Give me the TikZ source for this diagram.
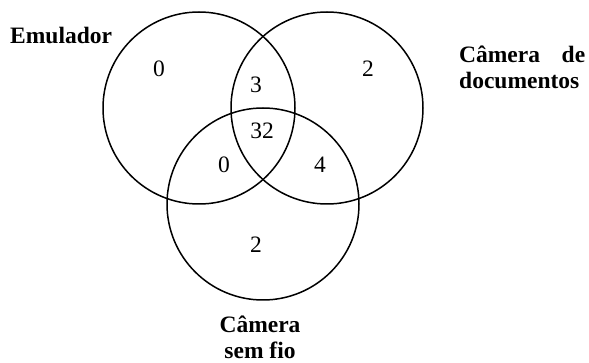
\documentclass[tikz,border=0pt]{standalone}
\usepackage{fontspec}
\setmainfont{Liberation Serif}
\begin{document}
\begin{tikzpicture}[x=1pt,y=-1pt,
  set/.style={draw=black,line width=1.5pt},
  count/.style={font=\fontsize{23.5}{26}\selectfont,inner sep=0pt,anchor=base},
  setname/.style={font=\fontsize{23.5}{26}\selectfont\bfseries,inner sep=0pt}]
\useasboundingbox (0,0) rectangle (589,363);
% the three sets
\draw[set] (199,108) circle (96pt);
\draw[set] (327,108) circle (96pt);
\draw[set] (263,204) circle (96pt);
% set names
\node[setname,anchor=base west] (emu) at (10,44) {Emulador};
\node[setname,anchor=base west] (docA) at (459,63) {\makebox[126pt][s]{Câmera de}};
\node[setname,anchor=base west] (docB) at (459,89) {documentos};
\node[setname,anchor=base] (semA) at (260,333) {Câmera};
\node[setname,anchor=base] (semB) at (260,358) {sem fio};
% region counts
\node[count] (onlyE) at (159,77) {0};
\node[count] (ED) at (256,93) {3};
\node[count] (onlyD) at (368,77) {2};
\node[count] (EDS) at (262,139) {32};
\node[count] (ES) at (224,173) {0};
\node[count] (DS) at (320,173) {4};
\node[count] (onlyS) at (256,253) {2};
\end{tikzpicture}
\end{document}
